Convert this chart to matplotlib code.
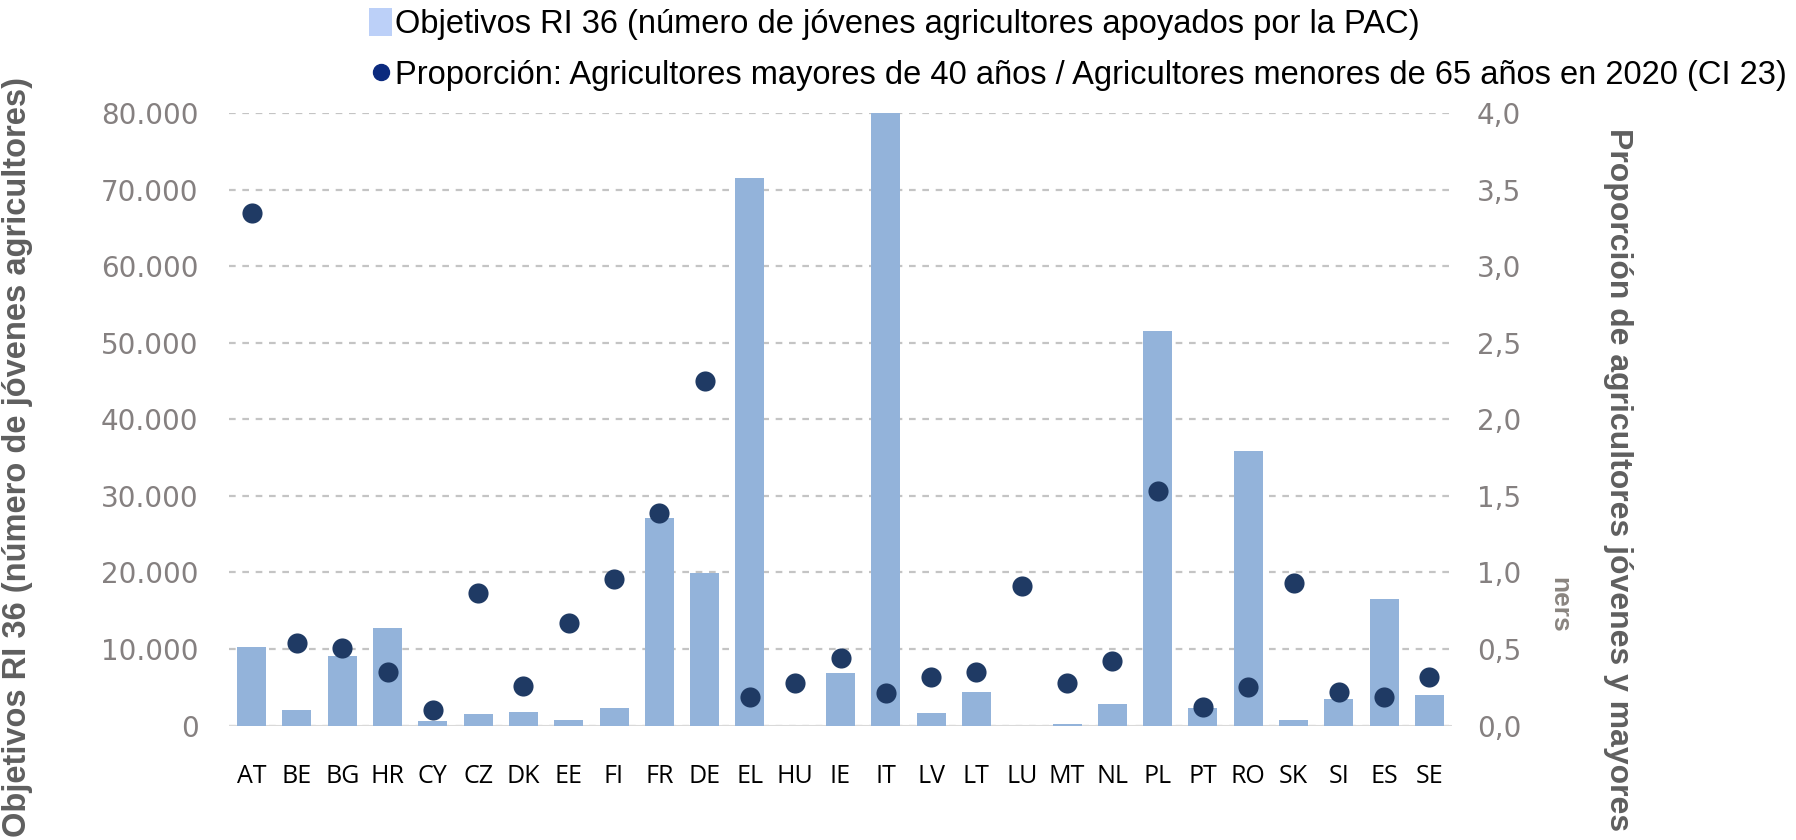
import matplotlib
matplotlib.use("Agg")
import matplotlib.pyplot as plt
from matplotlib.ticker import FuncFormatter
from matplotlib.lines import Line2D
from matplotlib.patches import Patch

countries = ["AT", "BE", "BG", "HR", "CY", "CZ", "DK", "EE", "FI", "FR", "DE", "EL", "HU", "IE",
             "IT", "LV", "LT", "LU", "MT", "NL", "PL", "PT", "RO", "SK", "SI", "ES", "SE"]
ri36_targets = [10300, 2030, 9080, 12800, 630, 1500, 1720, 720, 2330, 27100, 19900, 71500, 0, 6820,
                80000, 1590, 4420, 0, 200, 2770, 51500, 2250, 35900, 720, 3420, 16500, 3990]
ratio_ci23 = [3.35, 0.54, 0.505, 0.35, 0.10, 0.864, 0.258, 0.672, 0.955, 1.387, 2.25, 0.188, 0.28, 0.439,
              0.21, 0.319, 0.352, 0.914, 0.276, 0.424, 1.533, 0.123, 0.254, 0.933, 0.221, 0.184, 0.315]
left_ticks = [0, 10000, 20000, 30000, 40000, 50000, 60000, 70000, 80000]
right_ticks = [0.0, 0.5, 1.0, 1.5, 2.0, 2.5, 3.0, 3.5, 4.0]

legend_bar = "Objetivos RI 36 (número de jóvenes agricultores apoyados por la PAC)"
legend_dot = "Proporción: Agricultores mayores de 40 años / Agricultores menores de 65 años en 2020 (CI 23)"
ylabel_left = "Objetivos RI 36 (número de jóvenes agricultores)"
ylabel_right = "Proporción de agricultores jóvenes y mayores"

bar_color = "#93b3da"
dot_color = "#1f3a64"
tick_gray = "#858080"
label_gray = "#5f5f5f"

fig = plt.figure(figsize=(17.96, 8.40), dpi=100)
ax = fig.add_axes([0.1275, 0.1363, 0.681, 0.7292])
ax2 = ax.twinx()

x = list(range(len(countries)))
ax.bar(x, ri36_targets, width=0.64, color=bar_color, zorder=2)
ax2.scatter(x, ratio_ci23, s=210, color=dot_color, zorder=3, linewidths=0)

ax.set_xlim(-0.5, len(countries) - 0.5)
ax.set_ylim(0, 80000)
ax2.set_ylim(0, 4.0)
ax.set_yticks(left_ticks)
ax2.set_yticks(right_ticks)
ax.yaxis.set_major_formatter(FuncFormatter(lambda v, p: f"{int(v):,}".replace(",", ".")))
ax2.yaxis.set_major_formatter(FuncFormatter(lambda v, p: f"{v:.1f}".replace(".", ",")))

ax.grid(axis="y", color="#c4c4c4", linestyle=(0, (3, 3)), linewidth=1.6, zorder=0)
ax.set_axisbelow(True)
for a in (ax, ax2):
    for s in a.spines.values():
        s.set_visible(False)
ax.axhline(0, color="#d9d9d9", linewidth=1.5, zorder=1)

ax.set_xticks(x)
ax.set_xticklabels(countries, fontsize=18, family=["Open Sans", "DejaVu Sans"], color="black")
ax.tick_params(axis="x", length=0, pad=28)
ax.tick_params(axis="y", length=0, pad=22, labelsize=20, labelcolor=tick_gray)
ax2.tick_params(axis="y", length=0, pad=18, labelsize=20, labelcolor=tick_gray)
for lab in ax.get_yticklabels() + ax2.get_yticklabels():
    lab.set_family(["DejaVu Sans"])

narrow = ["Liberation Sans Narrow", "Liberation Sans", "DejaVu Sans"]
fig.text(0.0095, 0.003, ylabel_left, rotation=90, ha="center", va="bottom", fontsize=23.5,
         fontweight="bold", color=label_gray, family=narrow)
fig.text(0.901, 0.848, ylabel_right, rotation=-90, ha="center", va="top", fontsize=23,
         fontweight="bold", color=label_gray, family=narrow)
fig.text(0.868, 0.28, "ners", rotation=-90, ha="center", va="center", fontsize=19,
         fontweight="bold", color="#8a8580", family=narrow)

handles = [Patch(facecolor="#bcd0f8", edgecolor="none"),
           Line2D([], [], marker="o", linestyle="none", markersize=11.5, color="#0b2a7e")]
fig.legend(handles, [legend_bar, legend_dot], loc="upper left", bbox_to_anchor=(0.2055, 0.990),
           frameon=False, prop={"family": ["Liberation Sans", "DejaVu Sans"], "size": 23.5},
           handlelength=0.7, handleheight=0.92, handletextpad=0.1, labelspacing=0.58,
           borderaxespad=0.0, borderpad=0.0)

fig.savefig("out.png", dpi=100)
